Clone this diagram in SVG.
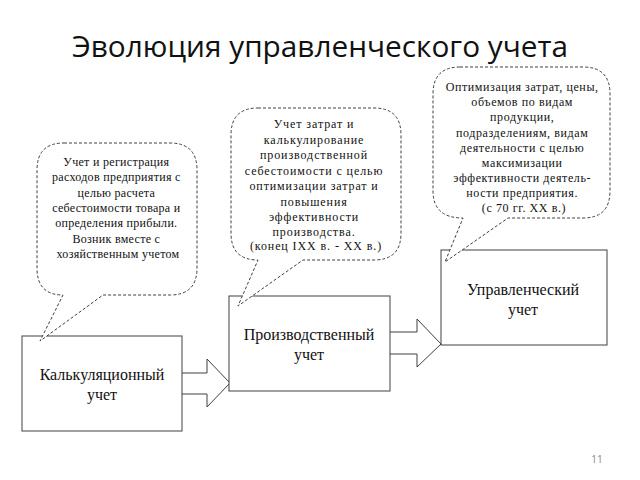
<svg xmlns="http://www.w3.org/2000/svg" width="640" height="480" viewBox="0 0 640 480">
<style>
.box{fill:#fff;stroke:#404040;stroke-width:1}
.call{fill:#fff;stroke:#404040;stroke-width:1;stroke-dasharray:3,2}
.arr{fill:#fff;stroke:#404040;stroke-width:1}
.t{font-family:"Liberation Serif","Times New Roman",serif;fill:#111;text-anchor:middle}
.s{font-size:12px}
.b{font-size:16px}
</style>
<rect width="640" height="480" fill="#fff"/>
<text x="320" y="57" font-family="'Open Sans','Liberation Sans',sans-serif" font-size="30" fill="#111" text-anchor="middle" textLength="496" lengthAdjust="spacingAndGlyphs">Эволюция управленческого учета</text>
<g id="connectors">
<path class="arr" d="M182,373 H207 V359 L230,383 L207,407 V394 H182"/>
<path class="arr" d="M390,332 H417 V319 L441,344 L417,367 V354 H390"/>
</g>
<g id="n1">
<rect class="box" x="22" y="336" width="160" height="95"/>
<text class="t b" x="102" y="380">Калькуляционный</text>
<text class="t b" x="102" y="400">учет</text>
</g>
<g id="n2">
<rect class="box" x="229" y="296" width="161" height="95"/>
<text class="t b" x="309" y="340">Производственный</text>
<text class="t b" x="309" y="360">учет</text>
</g>
<g id="n3">
<rect class="box" x="441" y="250" width="166" height="95"/>
<text class="t b" x="523" y="295">Управленческий</text>
<text class="t b" x="523" y="315">учет</text>
</g>
<g id="c1">
<path class="call" d="M64,143 H170 Q197,143 197,170 V268 Q197,295 170,295 H103 L40,341 L63,295 Q37,295 37,268 V170 Q37,143 64,143 Z"/>
<text class="t s" letter-spacing="0.3">
<tspan x="118" y="166">Учет и регистрация</tspan>
<tspan x="118" y="181">расходов предприятия с</tspan>
<tspan x="118" y="196.5">целью расчета</tspan>
<tspan x="118" y="212">себестоимости товара и</tspan>
<tspan x="118" y="227">определения прибыли.</tspan>
<tspan x="118" y="242.5">Возник вместе с</tspan>
<tspan x="118" y="258">хозяйственным учетом</tspan>
</text>
</g>
<g id="c2">
<path class="call" d="M258,108 H374 Q401,108 401,135 V233 Q401,260 374,260 H303 L238,306 L258,260 Q231,260 231,233 V135 Q231,108 258,108 Z"/>
<text class="t s" letter-spacing="0.9">
<tspan x="316" y="128">Учет затрат и</tspan>
<tspan x="316" y="143.5">калькулирование</tspan>
<tspan x="316" y="159">производственной</tspan>
<tspan x="316" y="174.5">себестоимости с целью</tspan>
<tspan x="316" y="190">оптимизации затрат и</tspan>
<tspan x="316" y="205.5">повышения</tspan>
<tspan x="316" y="221">эффективности</tspan>
<tspan x="316" y="236">производства.</tspan>
<tspan x="316" y="250">(конец IXX в. - XX в.)</tspan>
</text>
</g>
<g id="c3">
<path class="call" d="M460,67 H583 Q610,67 610,94 V191 Q610,218 583,218 H508 L445,262 L463,218 Q433,218 433,191 V94 Q433,67 460,67 Z"/>
<text class="t s" letter-spacing="0.6">
<tspan x="524" y="91">Оптимизация затрат, цены,</tspan>
<tspan x="524" y="106">объемов по видам</tspan>
<tspan x="524" y="121">продукции,</tspan>
<tspan x="524" y="136.5">подразделениям, видам</tspan>
<tspan x="524" y="151.5">деятельности с целью</tspan>
<tspan x="524" y="167">максимизации</tspan>
<tspan x="524" y="182">эффективности  деятель-</tspan>
<tspan x="524" y="197">ности предприятия.</tspan>
<tspan x="524" y="212">(с 70 гг. XX в.)</tspan>
</text>
</g>
<text x="597" y="463" font-family="'Open Sans','Liberation Sans',sans-serif" font-size="10" fill="#888" text-anchor="middle">11</text>
</svg>
